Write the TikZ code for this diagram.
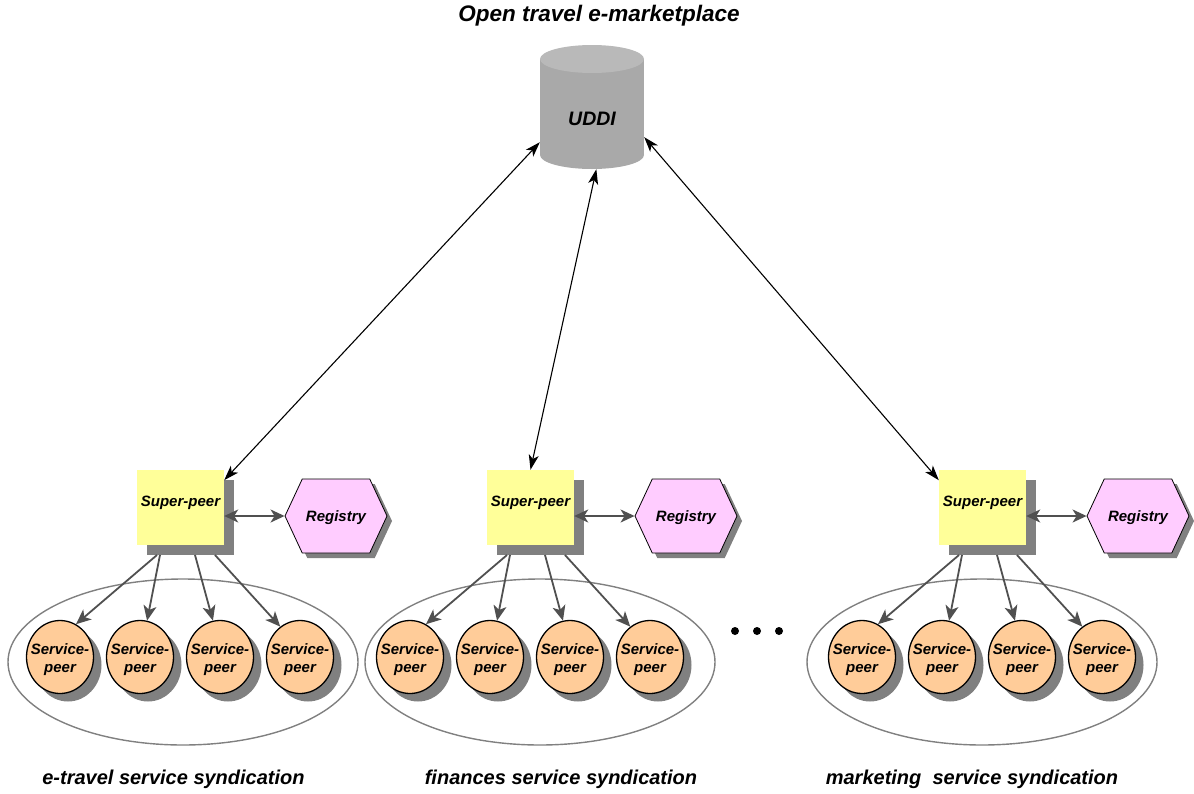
\documentclass[tikz,border=0pt]{standalone}
\usepackage{fontspec}
\setmainfont{Liberation Sans}
\usetikzlibrary{shapes.geometric,shapes.symbols,shadows,arrows.meta,calc}
\definecolor{spyellow}{HTML}{FFFF99}
\definecolor{peach}{HTML}{FFCC99}
\definecolor{regpink}{HTML}{FFCCFF}
\definecolor{shadowgray}{HTML}{808080}
\definecolor{arrowgray}{HTML}{505050}
\definecolor{ellgray}{HTML}{808080}
\definecolor{uddibody}{HTML}{A9A9A9}
\definecolor{uddytop}{HTML}{B9B9B9}
\tikzset{
  lbl/.style={font=\fontsize{15}{18}\selectfont\bfseries\itshape},
  superpeer/.style={rectangle, fill=spyellow, minimum width=87pt, minimum height=75pt,
    inner sep=0pt, lbl, text height=11pt, text depth=13pt,
    drop shadow={shadow xshift=10pt, shadow yshift=-10pt, fill=shadowgray, opacity=1}},
  registry/.style={signal, signal to=east and west, signal pointer angle=130,
    draw=black, line width=0.8pt, fill=regpink, minimum width=102pt, minimum height=74pt,
    inner sep=0pt, lbl, text height=14pt, text depth=3pt,
    drop shadow={shadow xshift=5pt, shadow yshift=-5pt, fill=shadowgray, opacity=1}},
  servicepeer/.style={ellipse, draw=black, line width=1.3pt, fill=peach,
    minimum width=67pt, minimum height=73pt, inner sep=0pt,
    drop shadow={shadow xshift=8pt, shadow yshift=-8pt, fill=shadowgray, opacity=1},
    label={[lbl, align=center, yshift=-3pt]center:Service-\\peer}},
  synd/.style={ellipse, draw=ellgray, line width=1.4pt, minimum width=350pt, minimum height=166pt, inner sep=0pt},
  bigarrow/.style={draw=black, line width=1.1pt,
    arrows={Stealth[length=15pt,width=10pt,inset=4pt]-Stealth[length=15pt,width=10pt,inset=4pt]}},
  grayarrow/.style={draw=arrowgray, line width=1.8pt,
    arrows={Stealth[length=14pt,width=13pt,inset=4pt]-Stealth[length=14pt,width=13pt,inset=4pt]}},
  childarrow/.style={draw=arrowgray, line width=1.8pt, -{Stealth[length=15pt,width=13pt,inset=4pt]}},
  dotnode/.style={circle, fill=black, minimum size=8pt, inner sep=0pt},
  caption/.style={font=\fontsize{20}{24}\selectfont\bfseries\itshape}
}
\begin{document}
\begin{tikzpicture}[x=1pt,y=-1pt]
\useasboundingbox (0,0) rectangle (1194,793);
% title
\node[font=\fontsize{22.5}{26}\selectfont\bfseries\itshape] (title) at (599,16) {Open travel e-marketplace};
% UDDI cylinder
\fill[uddibody] (540,59) rectangle (644,155);
\fill[uddibody] (592,155) ellipse [x radius=52pt, y radius=14pt];
\fill[uddytop] (592,59) ellipse [x radius=52pt, y radius=14pt];
\node[minimum width=104pt, minimum height=124pt, inner sep=0pt] (uddi) at (592,107) {};
\node[font=\fontsize{19.5}{22}\selectfont\bfseries\itshape] (uddilabel) at (592,119) {UDDI};
% groups
\foreach \g/\sx/\rx/\ex/\cx in {1/180.5/336/183/60, 2/530.5/686/540/410, 3/982.5/1138/982/862}{
  \node[synd] (ell\g) at (\ex,662) {};
  \node[superpeer] (sp\g) at (\sx,507.5) {Super-peer};
  \node[registry] (reg\g) at (\rx,516) {Registry};
  \draw[grayarrow] (sp\g.east |- reg\g.west) -- (reg\g.west);
  \foreach \i/\off/\ang in {0/-23.5/64, 1/-20.5/79, 2/14.5/101, 3/34.5/123}{
    \pgfmathsetmacro\px{\cx+80*\i}
    \node[servicepeer] (c\g\i) at (\px,657) {};
    \coordinate (st\g\i) at ($(sp\g.center)+(\off,47.5)$);
    \draw[childarrow] (st\g\i) -- (c\g\i.\ang);
  }
}
% UDDI links
\draw[bigarrow] (uddi.214) -- (sp1.32);
\draw[bigarrow] (uddi.274) -- (sp2.north);
\draw[bigarrow] (uddi.330) -- (sp3.148);
% dots
\node[dotnode] (dot1) at (735,631) {};
\node[dotnode] (dot2) at (757,631) {};
\node[dotnode] (dot3) at (779,631) {};
% captions
\node[caption] (cap1) at (173.5,779) {e-travel service syndication};
\node[caption] (cap2) at (561,779) {finances service syndication};
\node[caption] (cap3) at (972,779) {marketing \ service syndication};
\end{tikzpicture}
\end{document}
